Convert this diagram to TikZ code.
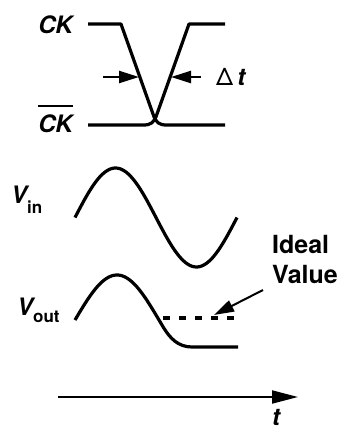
\documentclass[tikz,border=0pt]{standalone}
\usepackage{fontspec}
\setmainfont{TeX Gyre Heros}
\usetikzlibrary{arrows.meta,positioning}
\newcommand{\subsize}{\normalfont\bfseries\fontsize{17}{17}\selectfont}

\begin{document}
\begin{tikzpicture}[x=1pt,y=-1pt,
 wave/.style={line width=3.2pt,line join=round},
 lbl/.style={inner sep=0pt,font=\bfseries\fontsize{24}{28}\selectfont},
 arr/.style={-{Triangle[length=20pt,width=12pt]},line width=2.4pt},
 axis/.style={-{Triangle[length=26pt,width=13pt]},line width=2pt}]
\useasboundingbox (0,0) rectangle (344,429);
% clock pair
\draw[wave] (88,24) -- (121,24) -- (153,114)
  .. controls (156,123) and (159,125) .. (167,125) -- (225,125);
\draw[wave] (225,24) -- (189,24) -- (157,114)
  .. controls (154,123) and (151,125) .. (143,125) -- (88,125);
\node[lbl,anchor=base east] (ck) at (73,33) {\itshape CK};
\node[lbl,anchor=base east] (ckbar) at (73,132) {\itshape CK};
\draw[line width=2pt] ([yshift=8pt]ckbar.north west) -- ([yshift=8pt]ckbar.north east);
\coordinate (ckhit) at (139,77);
\coordinate (ckbhit) at (171,77);
\coordinate (dtl) at (103,77);
\coordinate (dtr) at (201,77);
\node[lbl,anchor=base west] (dt) at (216,85) {{\mdseries Δ}\,\textit{t}};
\draw[arr] (dtl) -- (ckhit);
\draw[arr] (dtr) -- (ckbhit);
% input
\node[lbl,anchor=base west] (vin) at (11,203) {\itshape V\raisebox{-10pt}{\subsize in}};
\draw[wave] plot[domain=0:360,samples=80] ({75+0.45*\x},{217.5-49.5*sin(\x)});
% output
\node[lbl,anchor=base west] (vout) at (17,315) {\itshape V\raisebox{-7pt}{\subsize out}};
\draw[wave] plot[domain=0:190,samples=60] ({75+0.4667*\x},{320-45*sin(\x)})
  .. controls (170,338) and (178,347) .. (192,347) -- (238,347);
\draw[line width=3.5pt,dash pattern=on 7pt off 9pt] (163,318) -- (238,318);
\node[lbl,anchor=base west,align=left,font=\bfseries\fontsize{25}{30}\selectfont] (ideal) at (272,283) {Ideal\\Value};
\coordinate (idealhit) at (214,315);
\draw[arr,line width=2pt] (263,290) -- (idealhit);
% time axis
\coordinate (axl) at (58,397);
\coordinate (axr) at (298,397);
\draw[axis] (axl) -- (axr);
\node[lbl,anchor=base west] (tlab) at (272,425) {\itshape t};
\end{tikzpicture}
\end{document}
